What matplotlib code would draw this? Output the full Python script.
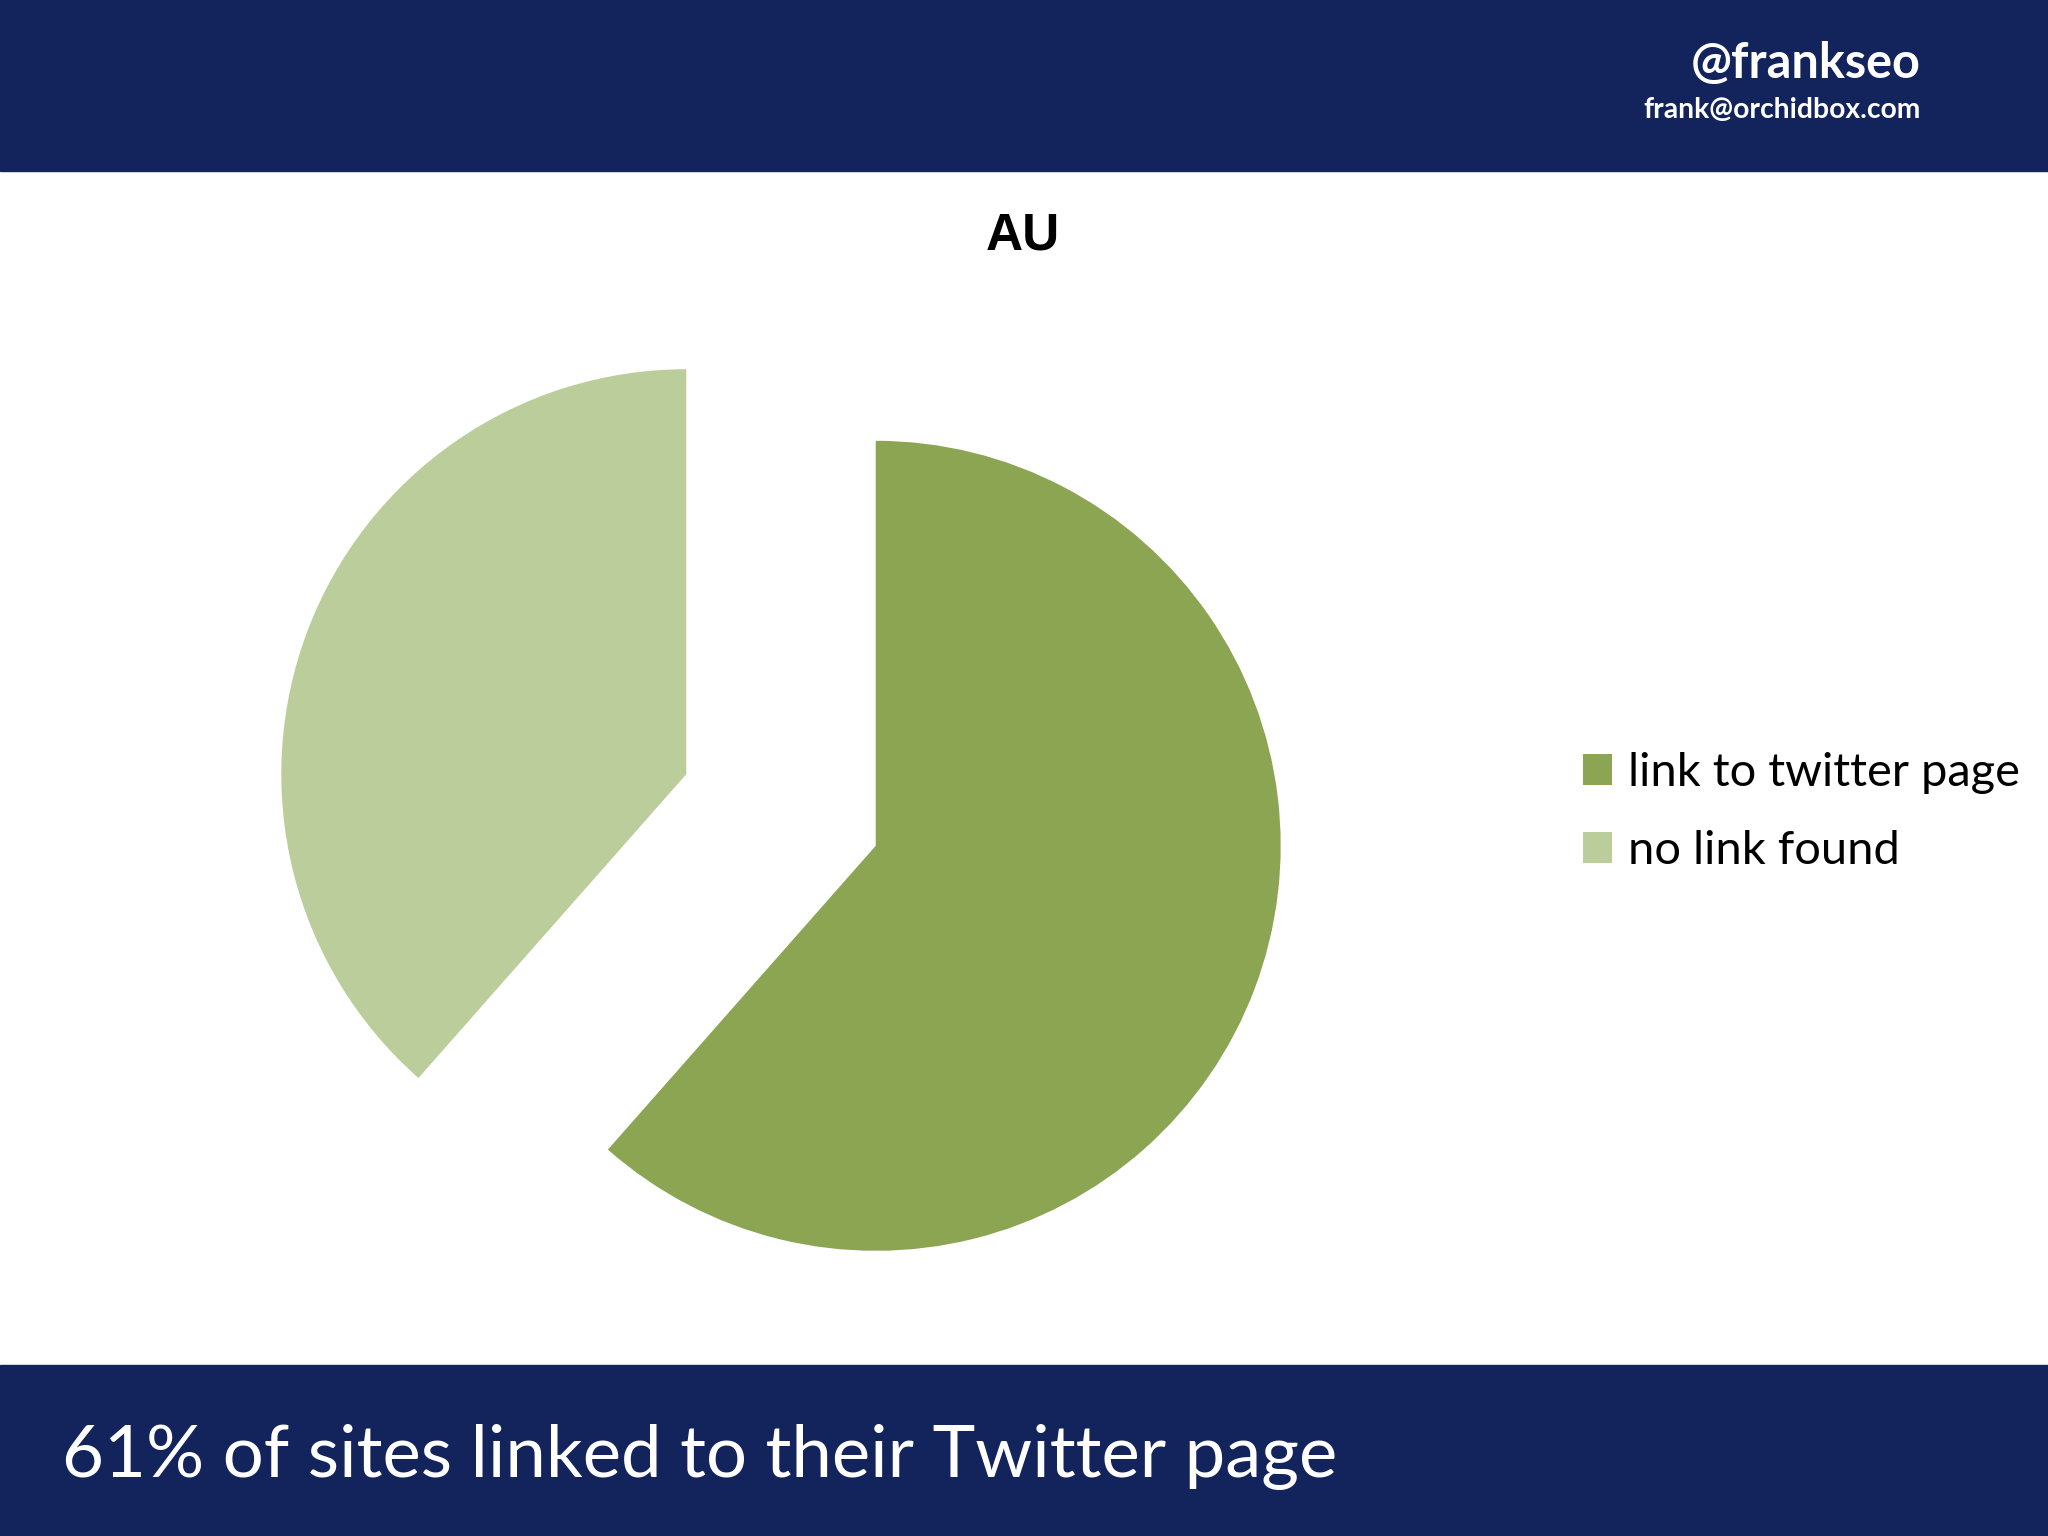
import matplotlib
matplotlib.use("Agg")
import matplotlib.pyplot as plt
from matplotlib.patches import Rectangle

categories = ["link to twitter page", "no link found"]
values = [61.5, 38.5]
colors = ["#8BA553", "#BBCD9A"]
title = "AU"
handle = "@frankseo"
email = "frank@orchidbox.com"
caption = "61% of sites linked to their Twitter page"

NAVY = "#13245D"
W, H = 2048, 1536
fig = plt.figure(figsize=(W / 100, H / 100), dpi=100)
ax = fig.add_axes([0, 0, 1, 1])

# bands
ax.add_patch(Rectangle((0, H - 171), W, 171, color=NAVY, zorder=0))
ax.add_patch(Rectangle((0, 0), W, 171, color=NAVY, zorder=0))

font = ["Lato", "DejaVu Sans"]
ax.text(1921, H - 78, handle, ha="right", va="baseline", color="white",
        fontsize=35, fontweight="bold", family=font)
ax.text(1921, H - 118, email, ha="right", va="baseline", color="white",
        fontsize=20.3, fontweight="bold", family=font)
ax.text(1023, H - 250, title, ha="center", va="baseline", color="black",
        fontsize=37, fontweight="bold", family=["Liberation Sans", "DejaVu Sans"])
ax.text(62, H - 1477, caption, ha="left", va="baseline", color="white",
        fontsize=52.2, family=font)

R = 405
wedges, _ = ax.pie(values, colors=colors, startangle=90, counterclock=False,
                   center=(781, H - 810), radius=R, explode=[0.25 * R, 0.25 * R],
                   wedgeprops=dict(linewidth=0), frame=True)
ax.set_xlim(0, W)
ax.set_ylim(0, H)
ax.set_aspect("equal")
ax.axis("off")

leg = ax.legend(wedges, categories, loc="upper left",
                bbox_to_anchor=(1583 / W, 1 - 752 / H), bbox_transform=fig.transFigure,
                frameon=False, prop=dict(family=font, size=33.8),
                handlelength=0.62, handleheight=0.62, handletextpad=0.34,
                labelspacing=0.77, borderpad=0, borderaxespad=0)

fig.savefig("out.png", dpi=100, facecolor="white")
